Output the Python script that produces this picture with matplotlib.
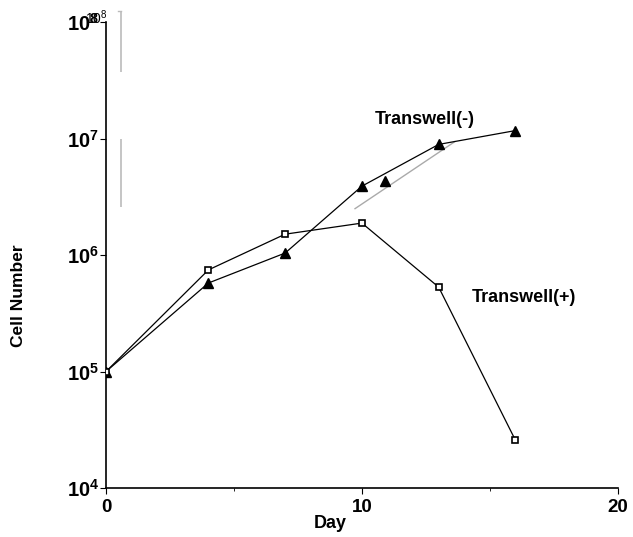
import numpy as np
import matplotlib.pyplot as plt
from matplotlib.ticker import FixedLocator, NullLocator

plt.rcParams['font.family'] = ['Liberation Sans', 'DejaVu Sans']
plt.rcParams['mathtext.fontset'] = 'custom'
plt.rcParams['mathtext.rm'] = 'Liberation Sans'
plt.rcParams['mathtext.bf'] = 'Liberation Sans:bold'

# data
days = [0, 4, 7, 10, 13, 16]
transwell_plus = [1.0e5, 7.45e5, 1.51e6, 1.88e6, 5.3e5, 2.57e4]
transwell_minus = [1.0e5, 5.75e5, 1.04e6, 3.9e6, 8.9e6, 1.17e7]

# stray grey artefacts in the original figure
ghost_line_x = [9.73, 13.63]
ghost_line_y = [2.5e6, 9.4e6]
ghost_point_x = [10.9]
ghost_point_y = [4.3e6]
ghost_bars_x = [0.59, 0.59]
ghost_bars_lo = [3.7e7, 2.57e6]
ghost_bars_hi = [1.24e8, 9.9e6]

y_ticks = [1e4, 1e5, 1e6, 1e7, 1e8]
y_tick_labels = [r'$\mathbf{10^{%d}}$' % int(np.log10(v)) for v in y_ticks]
x_ticks = [0, 10, 20]

fig = plt.figure(figsize=(6.33, 5.37), dpi=100)
ax = fig.add_axes([0.1675, 0.0912, 0.8085, 0.8678])

ax.plot(days, transwell_minus, color='black', lw=0.9, marker='^',
        markersize=7, markerfacecolor='black', zorder=3)
ax.plot(days, transwell_plus, color='black', lw=0.9, marker='s',
        markersize=5, markerfacecolor='white', markeredgewidth=1.2, zorder=4)

ax.plot(ghost_line_x, ghost_line_y, color='#aaaaaa', lw=1, zorder=2)
ax.plot(ghost_point_x, ghost_point_y, ls='none', marker='^', color='black',
        markersize=7, zorder=3)
ax.vlines(ghost_bars_x, ghost_bars_lo, ghost_bars_hi, color='#bbbbbb', lw=1.2,
          clip_on=False)
ax.plot([0.47, 0.59], [1.24e8, 1.24e8], color='#bbbbbb', lw=1, clip_on=False)

ax.set_yscale('log')
ax.set_ylim(1e4, 1e8)
ax.set_xlim(0, 20)
ax.yaxis.set_major_locator(FixedLocator(y_ticks))
ax.yaxis.set_minor_locator(NullLocator())
ax.set_yticklabels(y_tick_labels, fontsize=14.5)
ax.set_xticks(x_ticks)
ax.set_xticklabels([str(v) for v in x_ticks], fontsize=13.5, fontweight='bold')
ax.set_xticks([5, 15], minor=True)
ax.tick_params(axis='y', which='major', length=4, width=0.8, pad=1)
ax.tick_params(axis='x', which='major', length=4, width=0.8, pad=4)
ax.tick_params(axis='x', which='minor', length=2, width=0.6)

for side in ['top', 'right']:
    ax.spines[side].set_visible(False)
for side in ['left', 'bottom']:
    ax.spines[side].set_linewidth(1.2)

# overlapping small duplicate of the top label
ax.text(-0.82, 1.08e8, r'$10^{8}$', fontsize=10, ha='left', va='center')

ax.text(10.5, 1.47e7, 'Transwell(-)', fontsize=13, fontweight='bold', ha='left', va='center')
ax.text(14.3, 4.35e5, 'Transwell(+)', fontsize=13, fontweight='bold', ha='left', va='center')

fig.text(0.030, 0.45, 'Cell Number', rotation=90, fontsize=12.5, fontweight='bold',
         ha='center', va='center')
fig.text(0.522, 0.026, 'Day', fontsize=13, fontweight='bold', ha='center', va='center')

fig.savefig('out.png', dpi=100)
